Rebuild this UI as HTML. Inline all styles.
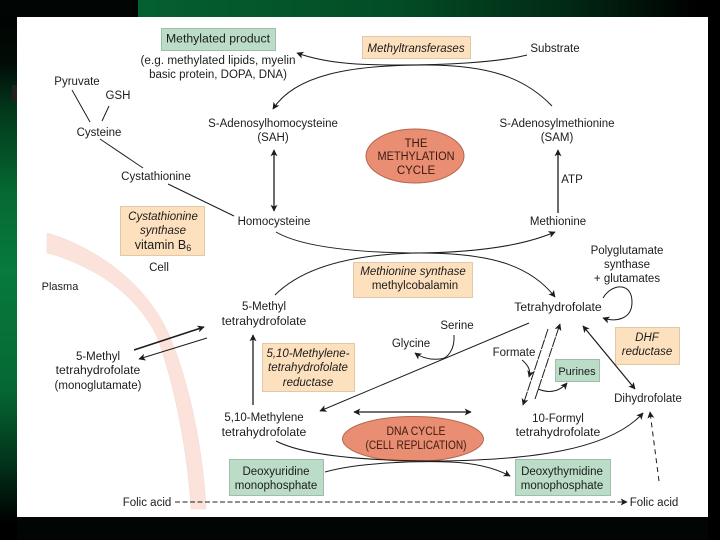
<!DOCTYPE html>
<html>
<head>
<meta charset="utf-8">
<style>
html,body{margin:0;padding:0;background:#000}
#p{position:relative;width:720px;height:540px;overflow:hidden;background:#000}
svg{position:absolute;left:0;top:0}
text{font-family:"Liberation Sans",sans-serif;font-size:11.5px;fill:#1c1c1c;text-anchor:middle}
.i{font-style:italic}
.k{fill:#3a1a10}
.t{font-size:12.2px}
</style>
</head>
<body>
<div id="p">
<svg width="720" height="540" viewBox="0 0 720 540">
<defs>
<linearGradient id="left" x1="0" y1="0" x2="0" y2="1">
<stop offset="0" stop-color="#000"/>
<stop offset=".12" stop-color="#010d07"/>
<stop offset=".2" stop-color="#02361b"/>
<stop offset=".36" stop-color="#056a33"/>
<stop offset=".5" stop-color="#077a3c"/>
<stop offset=".72" stop-color="#056834"/>
<stop offset=".85" stop-color="#02361b"/>
<stop offset=".97" stop-color="#000"/>
</linearGradient>
<linearGradient id="top" x1="0" y1="0" x2="1" y2="0">
<stop offset="0" stop-color="#056030"/>
<stop offset=".45" stop-color="#034d26"/>
<stop offset=".75" stop-color="#012a15"/>
<stop offset=".98" stop-color="#000"/>
</linearGradient>
<marker id="a" viewBox="0 0 10 10" refX="9" refY="5" markerWidth="7" markerHeight="7" orient="auto-start-reverse" markerUnits="userSpaceOnUse"><path d="M0 0L10 5L0 10L2.500 5Z" fill="#1c1c1c"/></marker>
</defs>

<rect x="0" y="0" width="17" height="540" fill="url(#left)"/>
<rect x="0" y="0" width="138" height="17" fill="#010503"/>
<rect x="138" y="0" width="570" height="17" fill="url(#top)"/>
<rect x="12" y="85" width="5" height="17" fill="#222"/>
<rect x="17" y="17" width="691" height="500" fill="#fff"/>
<rect x="17" y="517" width="691" height="23" fill="#010504"/>

<!-- membrane -->
<path d="M47 233C72 240 98 254 118 270C146 292 162 318 170 337C190 385 203 450 206 509L191 509C188 455 175 385 157 337C145 310 118 284 90 270C75 262 60 256 47 253Z" fill="#fbe3dc" stroke="#f3d8d0" stroke-width=".5"/>

<!-- boxes -->
<g stroke-width="1">
<rect x="161.500" y="28.500" width="114" height="22" fill="#bbdcc6" stroke="#9dbfa9"/>
<rect x="362.500" y="36.500" width="108" height="22" fill="#fde0bd" stroke="#e0c8a8"/>
<rect x="120.500" y="206.500" width="84" height="49" fill="#fde0bd" stroke="#e0c8a8"/>
<rect x="353.500" y="262.500" width="119" height="35" fill="#fde0bd" stroke="#e0c8a8"/>
<rect x="262.500" y="343.500" width="92" height="48" fill="#fde0bd" stroke="#e0c8a8"/>
<rect x="615.500" y="327.500" width="64" height="37" fill="#fde0bd" stroke="#e0c8a8"/>
<rect x="555.500" y="359.500" width="44" height="22" fill="#bbdcc6" stroke="#9dbfa9"/>
<rect x="229.500" y="459.500" width="94" height="36" fill="#bbdcc6" stroke="#9dbfa9"/>
<rect x="515.500" y="459.500" width="95" height="36" fill="#bbdcc6" stroke="#9dbfa9"/>
</g>
<ellipse cx="415" cy="156" rx="49" ry="27" fill="#e98e72" stroke="#b5674f"/>
<ellipse cx="413" cy="439" rx="70.500" ry="22.500" fill="#e98e72" stroke="#b5674f"/>

<!-- connectors -->
<g fill="none" stroke="#1c1c1c" stroke-width="1">
<path d="M527 55C495 63 440 65 400 65C370 65 330 65 297 53" marker-end="url(#a)"/>
<path d="M552 106C525 78 490 65 425 65C350 65 295 75 273 109" marker-end="url(#a)"/>
<path d="M72 90L90 122"/><path d="M109 106L102 121"/>
<path d="M100 139L143 168"/><path d="M168 184L234 216"/>
<path d="M274 150V211" stroke-width="1.300" marker-start="url(#a)" marker-end="url(#a)"/>
<path d="M558 213V150" stroke-width="1.300" marker-end="url(#a)"/>
<path d="M276 232C300 246 350 252 410 253C470 253 520 247 555 232" marker-end="url(#a)"/>
<path d="M275 295C300 270 345 254 420 253C490 253 530 265 555 297" marker-end="url(#a)"/>
<path d="M253 405V335" stroke-width="1.300" marker-end="url(#a)"/>
<path d="M134 350L204 327" stroke-width="1.500" marker-end="url(#a)"/>
<path d="M207 338L139 359" marker-end="url(#a)"/>
<path d="M529 323L320 411" marker-end="url(#a)"/>
<path d="M354 412H471" stroke-width="1.300" marker-start="url(#a)" marker-end="url(#a)"/>
<path d="M454 335C455 350 447 359 440 359C430 360 422 358 415 353" marker-end="url(#a)"/>
<path d="M548 329L523 405" stroke-dasharray="10 1" marker-end="url(#a)"/>
<path d="M535 399L560 324" stroke-dasharray="10 1" marker-end="url(#a)"/>
<path d="M522 360C528 365 531 370 529 377" marker-end="url(#a)"/>
<path d="M538 389C550 394 560 391 567 383" marker-end="url(#a)"/>
<path d="M603 298C612 283 632 282 632 302C632 320 615 322 603 318" marker-end="url(#a)"/>
<path d="M583 326L635 389" stroke-width="1.200" marker-start="url(#a)" marker-end="url(#a)"/>
<path d="M276 441C305 456 370 461 440 461C530 460 610 450 643 413" marker-end="url(#a)"/>
<path d="M325 472C360 462 420 461 450 462C475 463 495 468 510 476" marker-end="url(#a)"/>
<path d="M659 481L650 412" stroke-dasharray="5 4" marker-end="url(#a)"/>
<path d="M175 502H627" stroke-dasharray="5 2.500" marker-end="url(#a)"/>
</g>

<!-- labels -->
<text x="218" y="42.500" textLength="104" lengthAdjust="spacingAndGlyphs">Methylated product</text>
<text x="218" y="64" textLength="155" lengthAdjust="spacingAndGlyphs">(e.g. methylated lipids, myelin</text>
<text x="218" y="78">basic protein, DOPA, DNA)</text>
<text x="77" y="85">Pyruvate</text>
<text x="118" y="99">GSH</text>
<text x="99" y="136">Cysteine</text>
<text x="156" y="180">Cystathionine</text>
<text x="273" y="127">S-Adenosylhomocysteine</text>
<text x="273" y="141">(SAH)</text>
<text x="274" y="225">Homocysteine</text>
<text class="i" x="163" y="220">Cystathionine</text>
<text class="i" x="163" y="234">synthase</text>
<text x="163" y="249" style="font-size:12.500px">vitamin B<tspan font-size="9" dy="2">6</tspan></text>
<text x="159" y="271">Cell</text>
<text x="60" y="290" style="font-size:11px">Plasma</text>
<text class="i" x="416" y="52">Methyltransferases</text>
<text x="555" y="52">Substrate</text>
<text x="557" y="127">S-Adenosylmethionine</text>
<text x="557" y="141">(SAM)</text>
<text class="k" x="416" y="147">THE</text>
<text class="k" x="416" y="160" textLength="77" lengthAdjust="spacingAndGlyphs">METHYLATION</text>
<text class="k" x="416" y="174">CYCLE</text>
<text x="572" y="183">ATP</text>
<text x="558" y="225">Methionine</text>
<text x="627" y="254">Polyglutamate</text>
<text x="627" y="268">synthase</text>
<text x="627" y="282">+ glutamates</text>
<text class="i" x="413" y="275">Methionine synthase</text>
<text x="415" y="289">methylcobalamin</text>
<text class="t" x="558" y="311">Tetrahydrofolate</text>
<text x="264" y="310">5-Methyl</text>
<text class="t" x="264" y="325">tetrahydrofolate</text>
<text x="457" y="329">Serine</text>
<text x="411" y="347">Glycine</text>
<text x="514" y="356">Formate</text>
<text class="i" x="647" y="341">DHF</text>
<text class="i" x="647" y="355">reductase</text>
<text x="577" y="375" style="font-size:11px">Purines</text>
<text x="98" y="360">5-Methyl</text>
<text class="t" x="98" y="374">tetrahydrofolate</text>
<text x="98" y="389">(monoglutamate)</text>
<text class="i" x="308" y="357">5,10-Methylene-</text>
<text class="i" x="308" y="371">tetrahydrofolate</text>
<text class="i" x="308" y="386">reductase</text>
<text x="648" y="402">Dihydrofolate</text>
<text x="264" y="421">5,10-Methylene</text>
<text class="t" x="264" y="436">tetrahydrofolate</text>
<text x="558" y="422">10-Formyl</text>
<text class="t" x="558" y="436">tetrahydrofolate</text>
<text class="k" x="416" y="435" textLength="59" lengthAdjust="spacingAndGlyphs">DNA CYCLE</text>
<text class="k" x="416" y="449" textLength="101" lengthAdjust="spacingAndGlyphs">(CELL REPLICATION)</text>
<text x="276" y="475">Deoxyuridine</text>
<text x="276" y="489">monophosphate</text>
<text x="562" y="475">Deoxythymidine</text>
<text x="562" y="489">monophosphate</text>
<text x="147" y="506">Folic acid</text>
<text x="654" y="506">Folic acid</text>
</svg>
</div>
</body>
</html>
